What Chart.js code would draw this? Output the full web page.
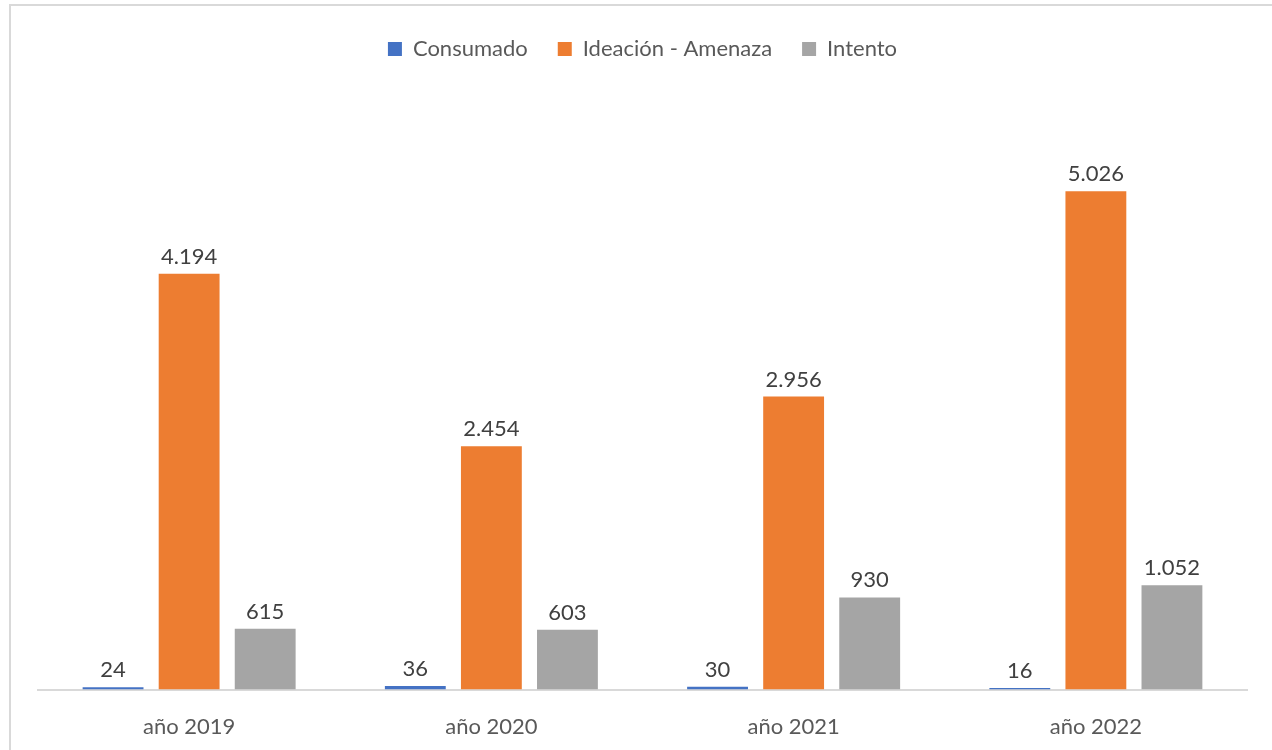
<!DOCTYPE html>
<html>
<head>
<meta charset="utf-8">
<script src="https://cdn.jsdelivr.net/npm/chart.js@4"></script>
<style>
  html, body { margin: 0; padding: 0; background: #fff; }
  #wrap { position: relative; width: 1272px; height: 750px; overflow: hidden; }
  #frame { position: absolute; left: 9px; top: 4px; width: 1300px; height: 800px;
           border: 2px solid #d9d9d9; box-sizing: border-box; pointer-events: none; }
</style>
</head>
<body>
<div id="wrap">
  <canvas id="chart" width="1272" height="750"></canvas>
  <div id="frame"></div>
</div>
<script>
const labels = ["año 2019", "año 2020", "año 2021", "año 2022"]

const consumado = [24, 36, 30, 16]
const ideacion = [4194, 2454, 2956, 5026]
const intento = [615, 603, 930, 1052]

const fmt = (v) => String(v).replace(/\B(?=(\d{3})+(?!\d))/g, ".")

// etiquetas encima de cada barra
const valueLabels = {
  id: "valueLabels",
  afterDatasetsDraw(chart) {
    const ctx = chart.ctx
    ctx.save()
    ctx.font = "22px Lato"
    ctx.fillStyle = "#404040"
    ctx.textAlign = "center"
    ctx.textBaseline = "alphabetic"
    chart.data.datasets.forEach((ds, i) => {
      chart.getDatasetMeta(i).data.forEach((bar, j) => {
        ctx.fillText(fmt(ds.data[j]), bar.x, bar.y - 10)
      })
    })
    ctx.restore()
  },
}

const data = {
  labels: labels,
  datasets: [
    { label: "Consumado", data: consumado, backgroundColor: "#4472C4" },
    { label: "Ideación - Amenaza", data: ideacion, backgroundColor: "#ED7D31" },
    { label: "Intento", data: intento, backgroundColor: "#A5A5A5" },
  ],
}

const config = {
  type: "bar",
  data: data,
  options: {
    responsive: false,
    animation: false,
    categoryPercentage: 0.755,
    barPercentage: 0.8,
    layout: {
      padding: { top: 8, left: 38, right: 25, bottom: -14 },
    },
    plugins: {
      legend: {
        position: "top",
        labels: {
          boxWidth: 14,
          boxHeight: 14,
          padding: 30,
          color: "#595959",
          font: { family: "Lato", size: 22 },
        },
      },
      tooltip: { enabled: false },
    },
    scales: {
      x: {
        grid: { display: false, drawTicks: false },
        border: { color: "#d9d9d9", width: 2 },
        ticks: {
          color: "#595959",
          padding: 24,
          font: { family: "Lato", size: 22 },
        },
      },
      y: {
        display: false,
        min: 0,
        max: 6250,
      },
    },
  },
  plugins: [valueLabels],
}

const myChart = new Chart(document.getElementById("chart"), config)
</script>
</body>
</html>
